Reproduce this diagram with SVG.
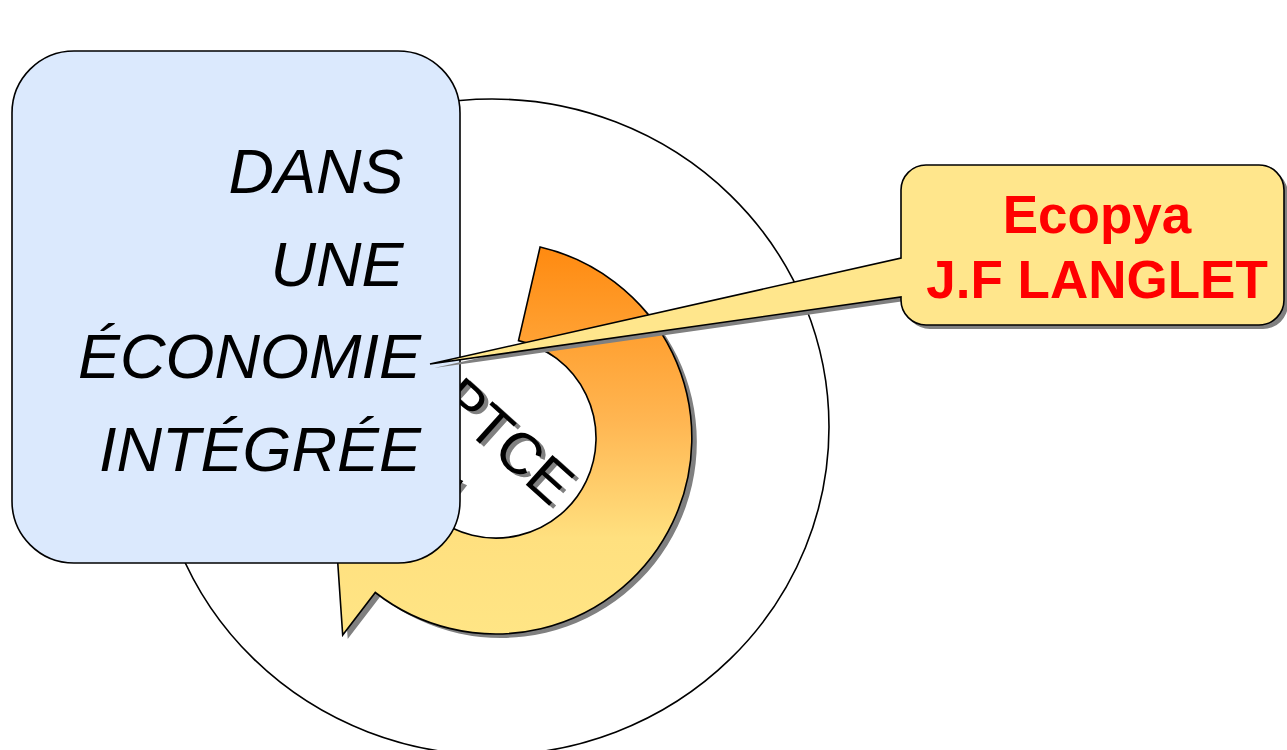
<svg xmlns="http://www.w3.org/2000/svg" width="1287" height="750" viewBox="0 0 1287 750">
<defs>
<linearGradient id="ringGrad" x1="0" y1="0" x2="0" y2="1">
<stop offset="0" stop-color="#FF8A10"/>
<stop offset="0.45" stop-color="#FFB652"/>
<stop offset="0.75" stop-color="#FFE07F"/>
<stop offset="1" stop-color="#FFE585"/>
</linearGradient>
<path id="ringPath" d="M540.1,247 A196,196 0 1 1 375.3,592.5 L342.7,635 L328,420 L462.1,481.3 L434.4,516.8 A100,100 0 1 0 518.5,340.6 Z"/>
<path id="calloutPath" d="M926,165 H1259 A25,25 0 0 1 1284,190 V300 A25,25 0 0 1 1259,325 H926 A25,25 0 0 1 901,300 V297 L430,364 L901,258 V190 A25,25 0 0 1 926,165 Z"/>
</defs>
<style>
.stroke{stroke:#000;stroke-width:1.6;stroke-linejoin:miter}
.shadow{fill:#808080}
.boxText{font-family:"Liberation Sans",Arial,sans-serif;font-style:italic;font-size:63px;fill:#000;text-anchor:end}
.redText{font-family:"Liberation Sans",Arial,sans-serif;font-weight:bold;font-size:53px;fill:#FF0000;text-anchor:middle}
.ptce{font-family:"Liberation Sans",Arial,sans-serif;font-size:58px}
</style>
<g id="outer-circle">
<ellipse cx="492" cy="427" rx="337" ry="328" fill="#fff" class="stroke"/>
</g>
<g id="cycle-arrow">
<use href="#ringPath" class="shadow" transform="translate(5,4)"/>
<use href="#ringPath" fill="url(#ringGrad)" class="stroke"/>
<text class="ptce" fill="#808080" transform="translate(440,407) rotate(42)">PTCE</text>
<text class="ptce" fill="#000" transform="translate(436,404) rotate(42)">PTCE</text>
</g>
<g id="box-economie">
<rect x="12" y="51" width="448" height="512" rx="62" ry="62" fill="#DBE9FD" class="stroke"/>
<text class="boxText" x="421" y="193" xml:space="preserve">DANS </text>
<text class="boxText" x="421" y="286" xml:space="preserve">UNE </text>
<text class="boxText" x="421" y="378">ÉCONOMIE</text>
<text class="boxText" x="421" y="471">INTÉGRÉE</text>
</g>
<g id="callout-ecopya">
<use href="#calloutPath" class="shadow" transform="translate(4,4)"/>
<use href="#calloutPath" fill="#FFE68C" class="stroke"/>
<text class="redText" x="1097" y="233">Ecopya</text>
<text class="redText" x="1097" y="298">J.F LANGLET</text>
</g>
</svg>
